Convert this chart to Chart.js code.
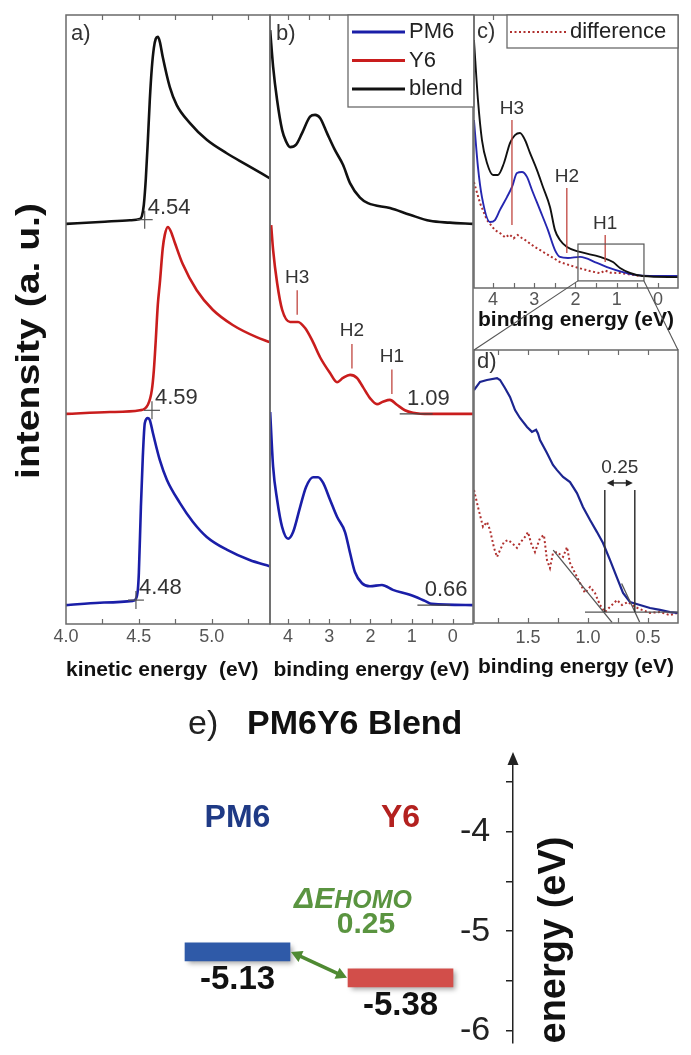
<!DOCTYPE html>
<html>
<head>
<meta charset="utf-8">
<script src="https://cdn.jsdelivr.net/npm/chart.js@4.4.0/dist/chart.umd.min.js"></script>
<style>
  html, body { margin: 0; padding: 0; background: #fff; }
  #fig { position: relative; width: 691px; height: 1055px; overflow: hidden; background: #fff; }
  #fig canvas { position: absolute; }
</style>
</head>
<body>
<div id="fig"></div>
<script>
// ---------- a) secondary-electron cut-off, kinetic energy (eV) ----------
const keTickLabels = [4.0, 4.5, 5.0];
const cutoffNames = ['PM6', 'Y6', 'blend'];
const cutoffOnsets = [4.48, 4.59, 4.54];
const kePM6 = [4.000, 4.233, 4.459, 4.479, 4.493, 4.500, 4.514, 4.527, 4.541, 4.562, 4.575, 4.596, 4.644, 4.692, 4.781, 4.870, 4.966, 5.103, 5.260, 5.397];
const cutPM6 = [3.1, 3.5, 3.8, 4.1, 5.6, 8.4, 19.2, 27.4, 33.0, 33.8, 33.5, 31.4, 26.9, 23.7, 19.9, 16.8, 14.3, 12.2, 10.5, 9.5];
const keY6 = [4.000, 4.301, 4.507, 4.562, 4.589, 4.603, 4.616, 4.630, 4.644, 4.664, 4.678, 4.699, 4.719, 4.747, 4.801, 4.897, 5.007, 5.144, 5.308, 5.397];
const cutY6 = [34.5, 34.8, 35.1, 36.0, 38.4, 41.7, 46.6, 52.4, 56.0, 61.7, 63.9, 65.2, 64.5, 62.6, 59.1, 54.8, 51.6, 49.1, 47.1, 46.3];
const keBlend = [4.000, 4.233, 4.438, 4.507, 4.521, 4.534, 4.548, 4.562, 4.575, 4.589, 4.603, 4.616, 4.630, 4.644, 4.664, 4.712, 4.760, 4.849, 4.966, 5.103, 5.240, 5.397];
const cutBlend = [65.7, 66.0, 66.3, 66.5, 67.0, 68.8, 73.2, 79.5, 86.0, 91.3, 94.6, 96.1, 96.4, 95.6, 93.1, 88.2, 85.2, 82.3, 79.5, 77.3, 75.4, 73.2];

// ---------- b) valence-band region, binding energy (eV) ----------
const beTickLabels = [4, 3, 2, 1, 0];
const homoOnsets = [0.66, 1.09];          // PM6, Y6
const peakNames = ['H3', 'H2', 'H1'];
const peaksY6 = [3.78, 2.45, 1.48];
const beBlend = [4.436, 4.364, 4.267, 4.145, 4.048, 3.952, 3.806, 3.661, 3.467, 3.345, 3.224, 3.055, 2.861, 2.667, 2.497, 2.255, 2.061, 1.527, 1.042, 0.558, 0.073, -0.485];
const vbBlend = [97.5, 91.5, 86.0, 81.1, 79.2, 78.3, 78.7, 80.6, 83.3, 83.6, 83.1, 80.6, 77.8, 75.4, 72.4, 70.0, 69.1, 68.3, 67.2, 66.2, 65.9, 65.7];
const beY6 = [4.412, 4.364, 4.267, 4.145, 3.952, 3.758, 3.588, 3.418, 3.224, 2.982, 2.812, 2.667, 2.497, 2.327, 2.182, 2.012, 1.842, 1.697, 1.527, 1.358, 1.164, 0.970, 0.558, -0.485];
const vbY6 = [65.5, 61.4, 56.0, 51.6, 49.6, 49.6, 48.6, 46.6, 43.8, 41.2, 39.7, 40.4, 40.9, 40.4, 38.9, 37.1, 36.1, 36.5, 36.8, 36.0, 35.1, 34.7, 34.5, 34.5];
const bePM6 = [4.436, 4.364, 4.267, 4.145, 4.000, 3.879, 3.709, 3.564, 3.394, 3.273, 3.152, 2.982, 2.812, 2.618, 2.497, 2.376, 2.206, 2.012, 1.721, 1.455, 1.042, 0.679, 0.509, -0.485];
const vbPM6 = [34.8, 25.8, 20.4, 15.9, 14.0, 15.1, 19.2, 22.5, 24.1, 24.1, 23.2, 20.4, 17.6, 15.1, 11.7, 8.5, 6.7, 6.2, 6.4, 5.6, 4.8, 3.8, 3.3, 3.1];

// ---------- c) blend, PM6 and their difference ----------
const peaksBlend = [3.54, 2.21, 1.28];
const beBlendC = [4.461, 4.364, 4.267, 4.145, 4.000, 3.879, 3.733, 3.588, 3.467, 3.345, 3.224, 3.103, 2.933, 2.788, 2.618, 2.497, 2.376, 2.206, 1.891, 1.406, 1.091, 0.921, 0.679, 0.364, -0.485];
const vbBlendC = [90.8, 68.9, 54.2, 45.8, 41.4, 41.4, 45.8, 53.1, 56.0, 56.8, 54.2, 49.5, 43.2, 37.0, 29.7, 21.2, 17.6, 15.0, 13.2, 11.4, 9.5, 7.3, 5.5, 4.4, 4.0];
const bePM6C = [4.461, 4.364, 4.267, 4.073, 3.952, 3.830, 3.661, 3.539, 3.418, 3.297, 3.176, 3.055, 2.861, 2.667, 2.497, 2.376, 2.182, 1.891, 1.479, 1.164, 0.873, 0.558, 0.194, -0.485];
const vbPM6C = [61.5, 44.3, 33.3, 24.2, 24.9, 28.6, 33.3, 37.0, 42.1, 42.5, 40.7, 35.9, 28.6, 21.2, 13.9, 11.4, 11.0, 11.4, 9.2, 7.3, 5.9, 4.8, 4.4, 4.4];
const beDiffC = [4.461, 4.315, 4.145, 3.952, 3.800, 3.700, 3.600, 3.500, 3.400, 3.300, 3.224, 2.982, 2.739, 2.376, 2.012, 1.648, 1.400, 1.285, 1.150, 0.921, 0.436, -0.485];
const vbDiffC = [38.8, 31.1, 24.9, 21.2, 19.8, 18.5, 19.6, 18.2, 19.4, 18.3, 17.6, 15.0, 12.8, 9.5, 7.7, 6.2, 5.4, 6.4, 5.6, 5.5, 4.4, 4.4];

// ---------- d) close-up of the HOMO onsets ----------
const zoomTickLabels = [1.5, 1.0, 0.5];
const zoomOnsets = [0.86, 0.61];          // difference, PM6
const beZoomPM6 = [1.950, 1.900, 1.842, 1.758, 1.733, 1.692, 1.650, 1.608, 1.567, 1.508, 1.467, 1.433, 1.417, 1.400, 1.342, 1.292, 1.258, 1.208, 1.150, 1.092, 1.042, 0.983, 0.925, 0.875, 0.817, 0.758, 0.708, 0.650, 0.567, 0.483, 0.400, 0.317, 0.250];
const vbZoomPM6 = [85.3, 88.3, 89.0, 89.7, 89.0, 86.1, 82.8, 78.0, 75.1, 71.8, 70.0, 70.8, 69.4, 67.0, 62.3, 57.9, 56.0, 53.5, 51.6, 47.6, 42.5, 37.7, 33.3, 29.3, 23.1, 16.5, 11.0, 7.7, 6.6, 5.5, 4.8, 4.0, 3.7];
const beZoomDiff = [1.950, 1.917, 1.875, 1.842, 1.817, 1.783, 1.758, 1.733, 1.700, 1.667, 1.633, 1.592, 1.567, 1.525, 1.500, 1.475, 1.442, 1.400, 1.367, 1.342, 1.317, 1.292, 1.258, 1.208, 1.175, 1.150, 1.108, 1.067, 1.025, 0.983, 0.942, 0.900, 0.858, 0.817, 0.758, 0.717, 0.667, 0.608, 0.550, 0.483, 0.400, 0.317, 0.250];
const vbZoomDiff = [48.7, 42.5, 35.2, 37.0, 34.1, 27.5, 24.2, 26.7, 29.7, 30.4, 29.3, 27.5, 29.3, 31.5, 33.3, 29.3, 26.0, 31.1, 32.2, 23.1, 20.1, 25.6, 26.0, 24.2, 27.8, 22.0, 18.3, 14.7, 11.0, 13.2, 11.0, 6.6, 4.0, 5.9, 8.4, 6.6, 7.7, 5.9, 4.8, 3.7, 4.0, 2.9, 3.7];

// ---------- e) HOMO levels of the blend ----------
const levelNames = ['PM6', 'Y6'];
const homoLevels = [-5.13, -5.38];
const energyTickLabels = [-6, -5, -4];

// ---------- shared drawing helpers ----------
const FONT = '"Liberation Sans", Arial, Helvetica, sans-serif';
Chart.defaults.font.family = FONT;
const BLACK = '#111111', BLUE = '#1a1ea8', RED = '#c91d1d', DIFF = '#b0302e', MARK = '#c0453f', FRAME = '#6a6a6a';

const pts = (xs, ys) => xs.map((x, i) => ({ x, y: ys[i] }));
const near = (list, v) => list.some(t => Math.abs(t - v) < 1e-6);
function interp(xs, ys, x) {
  for (let i = 0; i < xs.length - 1; i++) {
    const a = xs[i], b = xs[i + 1];
    if ((x - a) * (x - b) <= 0) return ys[i] + (ys[i + 1] - ys[i]) * (x - a) / (b - a);
  }
  return ys[ys.length - 1];
}
function addCanvas(left, top, w, h) {
  const c = document.createElement('canvas');
  c.width = w; c.height = h;
  Object.assign(c.style, { left: left + 'px', top: top + 'px', width: w + 'px', height: h + 'px' });
  document.getElementById('fig').appendChild(c);
  return c;
}
function text(ctx, s, x, y, o = {}) {
  ctx.save();
  ctx.font = `${o.style || ''} ${o.weight || ''} ${o.size || 20}px ${FONT}`;
  ctx.fillStyle = o.color || '#333';
  ctx.textAlign = o.align || 'left';
  ctx.textBaseline = o.base || 'middle';
  ctx.fillText(s, x, y);
  ctx.restore();
}
function seg(ctx, x1, y1, x2, y2, color, w, dash) {
  ctx.save();
  ctx.strokeStyle = color; ctx.lineWidth = w; ctx.setLineDash(dash || []);
  ctx.beginPath(); ctx.moveTo(x1, y1); ctx.lineTo(x2, y2); ctx.stroke();
  ctx.restore();
}
function dblArrow(ctx, x1, y1, x2, y2, color, w, head, hw) {
  const ang = Math.atan2(y2 - y1, x2 - x1), c = Math.cos(ang), s = Math.sin(ang);
  seg(ctx, x1 + c * head * 0.8, y1 + s * head * 0.8, x2 - c * head * 0.8, y2 - s * head * 0.8, color, w);
  ctx.save(); ctx.fillStyle = color;
  [[x1, y1, 1], [x2, y2, -1]].forEach(([x, y, d]) => {
    const bx = x + d * c * head, by = y + d * s * head;
    ctx.beginPath(); ctx.moveTo(x, y);
    ctx.lineTo(bx - s * hw, by + c * hw); ctx.lineTo(bx + s * hw, by - c * hw);
    ctx.closePath(); ctx.fill();
  });
  ctx.restore();
}

// frame around the plot area with inward ticks on the bottom and top edges
const framePlugin = {
  id: 'frame',
  afterDatasetsDraw(chart) {
    const { ctx, chartArea: a, scales: { x } } = chart;
    ctx.save();
    ctx.strokeStyle = FRAME; ctx.lineWidth = 1.5;
    ctx.strokeRect(a.left, a.top, a.right - a.left, a.bottom - a.top);
    ctx.lineWidth = 1.2; ctx.beginPath();
    for (const t of x.ticks) {
      const px = Math.round(x.getPixelForValue(t.value)) + 0.5;
      if (px < a.left + 2 || px > a.right - 2) continue;
      ctx.moveTo(px, a.bottom); ctx.lineTo(px, a.bottom - 5);
      ctx.moveTo(px, a.top); ctx.lineTo(px, a.top + 5);
    }
    ctx.stroke(); ctx.restore();
  }
};

function lineSet(label, xs, ys, color, width, extra) {
  return Object.assign({ label, data: pts(xs, ys), borderColor: color, backgroundColor: color, borderWidth: width,
    showLine: true, pointRadius: 0, fill: false, cubicInterpolationMode: 'monotone' }, extra || {});
}

function panelOptions(p) {
  return {
    responsive: false, animation: false, devicePixelRatio: 1,
    layout: { padding: p.pad },
    plugins: { legend: { display: false }, tooltip: { enabled: false } },
    scales: {
      x: {
        type: 'linear', min: p.xMin, max: p.xMax, reverse: !!p.reverse,
        ticks: { stepSize: p.step, includeBounds: false, autoSkip: false, maxRotation: 0,
                 callback: v => near(p.tickLabels, v) ? p.fmt(v) : '',
                 font: { size: 18 }, color: '#555', padding: p.labelPad },
        grid: { display: false, drawTicks: false }, border: { display: false },
        title: { display: true, text: p.title, font: { size: 21, weight: 'bold' }, color: BLACK,
                 align: p.titleAlign || 'center', padding: { top: 0, bottom: p.titlePad } },
        afterFit: s => { s.height = p.xHeight; }
      },
      y: { type: 'linear', display: false, min: 0, max: 100 }
    }
  };
}

// ---------- panel a ----------
const cutoffCurves = [[kePM6, cutPM6], [keY6, cutY6], [keBlend, cutBlend]];
const cutoffPlugin = {
  id: 'cutoffMarks',
  afterDraw(chart) {
    const { ctx, chartArea: a, scales: { x, y } } = chart;
    text(ctx, 'a)', a.left + 5, a.top + 19, { size: 22 });
    cutoffOnsets.forEach((e, i) => {
      const [xs, ys] = cutoffCurves[i];
      const base = ys[0] + (ys[1] - ys[0]) * (e - xs[0]) / (xs[1] - xs[0]);
      const px = x.getPixelForValue(e), py = y.getPixelForValue(base);
      seg(ctx, px - 8, py, px + 8, py, '#555', 1.2);
      seg(ctx, px, py - 9, px, py + 9, '#555', 1.2);
      text(ctx, e.toFixed(2), px + 3, py - 12, { size: 22, color: '#333' });
    });
    ctx.save();
    ctx.translate(30, 341); ctx.rotate(-Math.PI / 2); ctx.scale(1.15, 1);
    ctx.font = `bold 34px ${FONT}`; ctx.fillStyle = BLACK; ctx.textAlign = 'center'; ctx.textBaseline = 'middle';
    ctx.fillText('intensity (a. u.)', 0, 0);
    ctx.restore();
  }
};
new Chart(addCanvas(0, 0, 272, 700), {
  type: 'scatter',
  data: { datasets: [
    lineSet(cutoffNames[0], kePM6, cutPM6, BLUE, 2.6),
    lineSet(cutoffNames[1], keY6, cutY6, RED, 2.6),
    lineSet(cutoffNames[2], keBlend, cutBlend, BLACK, 2.6)
  ] },
  options: panelOptions({ pad: { left: 66, right: 2, top: 15, bottom: 0 }, xMin: 4.0, xMax: 5.4, step: 0.25,
    tickLabels: keTickLabels, fmt: v => v.toFixed(1), labelPad: 2, title: 'kinetic energy  (eV)',
    titleAlign: 'start', titlePad: 17, xHeight: 76 }),
  plugins: [framePlugin, cutoffPlugin]
});

// ---------- panel b ----------
const valencePlugin = {
  id: 'valenceMarks',
  afterDraw(chart) {
    const { ctx, chartArea: a, scales: { x, y } } = chart;
    text(ctx, 'b)', a.left + 6, a.top + 19, { size: 22 });
    peaksY6.forEach((e, i) => {
      const c = interp(beY6, vbY6, e), px = x.getPixelForValue(e);
      const top = y.getPixelForValue(c + 5.2);
      seg(ctx, px, y.getPixelForValue(c + 1.2), px, top, MARK, 1.3);
      text(ctx, peakNames[i], px, top - 13, { size: 19, align: 'center' });
    });
    const curves = [[bePM6, vbPM6], [beY6, vbY6]];
    homoOnsets.forEach((e, i) => {
      const ys = curves[i][1], base = ys[ys.length - 1];
      const py = y.getPixelForValue(base);
      seg(ctx, x.getPixelForValue(e + 0.2), py, x.getPixelForValue(e - 0.6), py, '#444', 1.3);
      text(ctx, e.toFixed(2), x.getPixelForValue(e) - 1, py - 15, { size: 22 });
    });
    // legend box in the upper right corner
    const bw = 126, bh = 92, bx = a.right + 1 - bw, by = a.top;
    ctx.save();
    ctx.fillStyle = '#fff'; ctx.fillRect(bx, by, bw, bh);
    ctx.strokeStyle = FRAME; ctx.lineWidth = 1.3; ctx.strokeRect(bx, by, bw, bh);
    ctx.restore();
    chart.data.datasets.forEach((ds, i) => {
      const ly = by + 17 + i * 28.5;
      seg(ctx, bx + 4, ly, bx + 57, ly, ds.borderColor, 3);
      text(ctx, ds.label, bx + 61, ly, { size: 22, color: '#222' });
    });
  }
};
new Chart(addCanvas(268, 0, 212, 700), {
  type: 'scatter',
  data: { datasets: [
    lineSet('PM6', bePM6, vbPM6, BLUE, 2.6),
    lineSet('Y6', beY6, vbY6, RED, 2.6),
    lineSet('blend', beBlend, vbBlend, BLACK, 2.6)
  ] },
  options: panelOptions({ pad: { left: 2, right: 7, top: 15, bottom: 0 }, xMin: -0.49, xMax: 4.44, reverse: true,
    step: 0.5, tickLabels: beTickLabels, fmt: v => String(v), labelPad: 2, title: 'binding energy (eV)',
    titlePad: 17, xHeight: 76 }),
  plugins: [framePlugin, valencePlugin]
});

// ---------- panel c ----------
const C_MARKS = { top: [61.5, 36.6, 19.4], bottom: [23.1, 12.8, 9.5] };
const ZOOM_BOX = { e: [1.94, 0.34], v: [2.6, 16.1] };
const blendPlugin = {
  id: 'blendMarks',
  afterDraw(chart) {
    const { ctx, chartArea: a, scales: { x, y } } = chart;
    peaksBlend.forEach((e, i) => {
      const px = x.getPixelForValue(e), top = y.getPixelForValue(C_MARKS.top[i]);
      seg(ctx, px, top, px, y.getPixelForValue(C_MARKS.bottom[i]), MARK, 1.3);
      text(ctx, peakNames[i], px, top - 11, { size: 19, align: 'center' });
    });
    const x1 = x.getPixelForValue(ZOOM_BOX.e[0]), x2 = x.getPixelForValue(ZOOM_BOX.e[1]);
    const y1 = y.getPixelForValue(ZOOM_BOX.v[1]), y2 = y.getPixelForValue(ZOOM_BOX.v[0]);
    ctx.save(); ctx.strokeStyle = '#555'; ctx.lineWidth = 1.2; ctx.strokeRect(x1, y1, x2 - x1, y2 - y1); ctx.restore();
    text(ctx, 'c)', a.left + 3, a.top + 17, { size: 22 });
    const bw = 171, bh = 33, bx = a.right - bw, by = a.top;
    ctx.save();
    ctx.fillStyle = '#fff'; ctx.fillRect(bx, by, bw, bh);
    ctx.strokeStyle = FRAME; ctx.lineWidth = 1.3; ctx.strokeRect(bx, by, bw, bh);
    ctx.restore();
    const diff = chart.data.datasets[2];
    seg(ctx, bx + 3, by + 17, bx + 60, by + 17, diff.borderColor, 2, diff.borderDash);
    text(ctx, diff.label, bx + 63, by + 17, { size: 22, color: '#222' });
  }
};
const cChart = new Chart(addCanvas(470, 0, 221, 335), {
  type: 'scatter',
  data: { datasets: [
    lineSet('blend', beBlendC, vbBlendC, BLACK, 1.9),
    lineSet('PM6', bePM6C, vbPM6C, '#2526b0', 1.9),
    lineSet('difference', beDiffC, vbDiffC, DIFF, 2, { borderDash: [2, 2.5], cubicInterpolationMode: 'default', tension: 0 })
  ] },
  options: panelOptions({ pad: { left: 4, right: 13, top: 15, bottom: 0 }, xMin: -0.485, xMax: 4.46, reverse: true,
    step: 0.5, tickLabels: beTickLabels, fmt: v => String(v), labelPad: 1, title: 'binding energy (eV)',
    titlePad: 2, xHeight: 47 }),
  plugins: [framePlugin, blendPlugin]
});

// ---------- panel d ----------
const onsetPlugin = {
  id: 'onsetMarks',
  afterDraw(chart) {
    const { ctx, chartArea: a, scales: { x, y } } = chart;
    const X = v => x.getPixelForValue(v), Y = v => y.getPixelForValue(v);
    text(ctx, 'd)', a.left + 3, a.top + 12, { size: 22 });
    seg(ctx, X(1.025), Y(4.0), X(0.25), Y(4.0), '#555', 1.4);
    seg(ctx, X(1.29), Y(26.7), X(0.80), Y(0.2), '#555', 1.3);
    seg(ctx, X(0.72), Y(14.5), X(0.57), Y(0.4), '#555', 1.3);
    zoomOnsets.forEach(e => seg(ctx, X(e), Y(48.7), X(e), Y(4.0), '#333', 1.5));
    dblArrow(ctx, X(zoomOnsets[0]) + 2, Y(51.3), X(zoomOnsets[1]) - 2, Y(51.3), '#222', 1.4, 7, 3.5);
    text(ctx, (zoomOnsets[0] - zoomOnsets[1]).toFixed(2), X((zoomOnsets[0] + zoomOnsets[1]) / 2), Y(57), { size: 19, align: 'center' });
    // connectors from the window drawn in panel c
    const cx = cChart.scales.x, cy = cChart.scales.y, dy = 0 - 240;
    const yb = cy.getPixelForValue(ZOOM_BOX.v[0]) + dy;
    seg(ctx, cx.getPixelForValue(ZOOM_BOX.e[0]), yb, a.left, a.top, '#555', 1.1);
    seg(ctx, cx.getPixelForValue(ZOOM_BOX.e[1]), yb, a.right, a.top, '#555', 1.1);
  }
};
new Chart(addCanvas(470, 240, 221, 460), {
  type: 'scatter',
  data: { datasets: [
    lineSet('PM6', beZoomPM6, vbZoomPM6, '#1c2590', 2.2, { cubicInterpolationMode: 'default', tension: 0 }),
    lineSet('difference', beZoomDiff, vbZoomDiff, DIFF, 2, { borderDash: [2, 2.5], cubicInterpolationMode: 'default', tension: 0 })
  ] },
  options: panelOptions({ pad: { left: 4, right: 13, top: 110, bottom: 0 }, xMin: 0.25, xMax: 1.95, reverse: true,
    step: 0.25, tickLabels: zoomTickLabels, fmt: v => v.toFixed(1), labelPad: 4, title: 'binding energy (eV)',
    titlePad: 20, xHeight: 77 }),
  plugins: [framePlugin, onsetPlugin]
});

// ---------- panel e ----------
const E_MIN = -6.126, E_MAX = -3.227, LEVEL_HALF = 0.087;
const levelColors = ['#2f5aa8', '#d24e4a'];
const nameColors = ['#1f3a85', '#b3211f'];
const GREEN = '#5a9440';
const shadowPlugin = {
  id: 'levelShadow',
  beforeDatasetsDraw(chart) {
    const c = chart.ctx; c.save();
    c.shadowColor = 'rgba(0,0,0,0.35)'; c.shadowBlur = 5; c.shadowOffsetX = 3; c.shadowOffsetY = 3;
  },
  afterDatasetsDraw(chart) {
    const { ctx, scales: { y } } = chart;
    ctx.restore();
    text(ctx, 'e)', 188, 35, { size: 34, color: '#222' });
    text(ctx, 'PM6Y6 Blend', 247, 35, { size: 34, weight: 'bold', color: BLACK });
    const bars = chart.getDatasetMeta(0).data;
    bars.forEach((b, i) => {
      text(ctx, levelNames[i], b.x, 128, { size: 32, weight: 'bold', color: nameColors[i], align: 'center' });
      const bottom = Math.max(b.y, b.base);
      text(ctx, homoLevels[i].toFixed(2), b.x, bottom + 19, { size: 33, weight: 'bold', color: BLACK, align: 'center' });
    });
    const x1 = bars[0].x + bars[0].width / 2 + 1, y1 = y.getPixelForValue(homoLevels[0]);
    const x2 = bars[1].x - bars[1].width / 2 - 1, y2 = y.getPixelForValue(homoLevels[1]);
    dblArrow(ctx, x1, y1, x2, y2, '#4f8a32', 3.5, 11, 6);
    const mx = (x1 + x2) / 2, my = (y1 + y2) / 2;
    ctx.save();
    ctx.fillStyle = GREEN; ctx.textBaseline = 'alphabetic';
    ctx.font = `italic bold 30px ${FONT}`;
    ctx.fillText('\u0394E', mx - 25, my - 57);
    const w = ctx.measureText('\u0394E').width;
    ctx.font = `italic bold 25px ${FONT}`;
    ctx.fillText('HOMO', mx - 25 + w, my - 57);
    ctx.restore();
    text(ctx, (homoLevels[0] - homoLevels[1]).toFixed(2), mx + 47, my - 40, { size: 30, weight: 'bold', color: GREEN, align: 'center' });
  }
};
new Chart(addCanvas(0, 690, 513, 365), {
  type: 'bar',
  data: { labels: levelNames, datasets: [{ data: homoLevels.map(v => [v - LEVEL_HALF, v + LEVEL_HALF]),
    backgroundColor: levelColors, barThickness: 105, borderWidth: 0, borderSkipped: false }] },
  options: { responsive: false, animation: false, devicePixelRatio: 1,
    layout: { padding: { left: 156, right: 31, top: 65, bottom: 0 } },
    plugins: { legend: { display: false }, tooltip: { enabled: false } },
    scales: { x: { display: false }, y: { display: false, min: E_MIN, max: E_MAX } } },
  plugins: [shadowPlugin]
});

const energyAxisPlugin = {
  id: 'energyAxis',
  afterDraw(chart) {
    const { ctx, chartArea: a } = chart;
    const x = a.left;
    ctx.save(); ctx.fillStyle = '#222';
    ctx.beginPath(); ctx.moveTo(x, a.top - 3); ctx.lineTo(x - 5.5, a.top + 10); ctx.lineTo(x + 5.5, a.top + 10); ctx.closePath(); ctx.fill();
    ctx.translate(x + 42, 250); ctx.rotate(-Math.PI / 2);
    ctx.font = `bold 38px ${FONT}`; ctx.fillStyle = BLACK; ctx.textAlign = 'center'; ctx.textBaseline = 'middle';
    ctx.fillText('energy (eV)', 0, 0);
    ctx.restore();
  }
};
new Chart(addCanvas(460, 690, 231, 365), {
  type: 'scatter',
  data: { datasets: [] },
  options: { responsive: false, animation: false, devicePixelRatio: 1,
    layout: { padding: { left: 0, right: 0, top: 65, bottom: 0 } },
    plugins: { legend: { display: false }, tooltip: { enabled: false } },
    scales: {
      x: { display: false, min: 0, max: 1 },
      y: { position: 'left', min: E_MIN, max: E_MAX,
           ticks: { stepSize: 0.5, includeBounds: false, autoSkip: false, crossAlign: 'far', padding: 0,
                    color: '#222', font: { size: 34, lineHeight: 0.7 },
                    callback: v => near(energyTickLabels, v) ? String(v) : '' },
           grid: { display: true, drawOnChartArea: false, drawTicks: true, tickLength: 7, color: '#222', lineWidth: 1.5 },
           border: { display: true, color: '#222', width: 1.5 },
           afterFit: s => { s.width = 53; } }
    } },
  plugins: [energyAxisPlugin]
});
</script>
</body>
</html>
